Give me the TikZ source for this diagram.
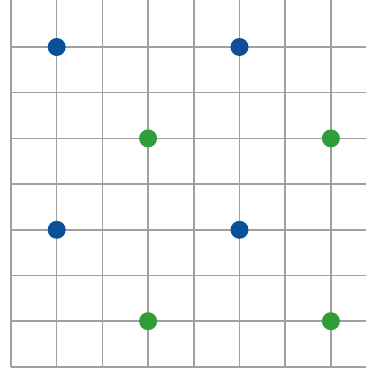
\documentclass[tikz,border=0pt]{standalone}
\definecolor{dotblue}{HTML}{0B4F97}
\definecolor{dotgreen}{HTML}{2F9E38}
\definecolor{gridgray}{HTML}{A0A0A0}
\begin{document}
\begin{tikzpicture}[x=1pt,y=-1pt,
  gridline/.style={draw=gridgray,line width=1.5pt},
  bdot/.style={circle,fill=dotblue,inner sep=0pt,minimum size=18pt},
  gdot/.style={circle,fill=dotgreen,inner sep=0pt,minimum size=18pt}]
\fill[white] (0,0) rectangle (366,369);
\useasboundingbox (0,0) rectangle (366,369);
\foreach \k in {0,...,7} {
  \draw[gridline] ({11+45.7*\k},0) -- ({11+45.7*\k},367);
  \draw[gridline] (11,{47+45.7*\k}) -- (366,{47+45.7*\k});
}
\node[bdot] (b1) at (56.7,47) {};
\node[bdot] (b2) at (239.5,47) {};
\node[bdot] (b3) at (56.7,229.8) {};
\node[bdot] (b4) at (239.5,229.8) {};
\node[gdot] (g1) at (148.1,138.4) {};
\node[gdot] (g2) at (330.9,138.4) {};
\node[gdot] (g3) at (148.1,321.2) {};
\node[gdot] (g4) at (330.9,321.2) {};
\end{tikzpicture}
\end{document}
